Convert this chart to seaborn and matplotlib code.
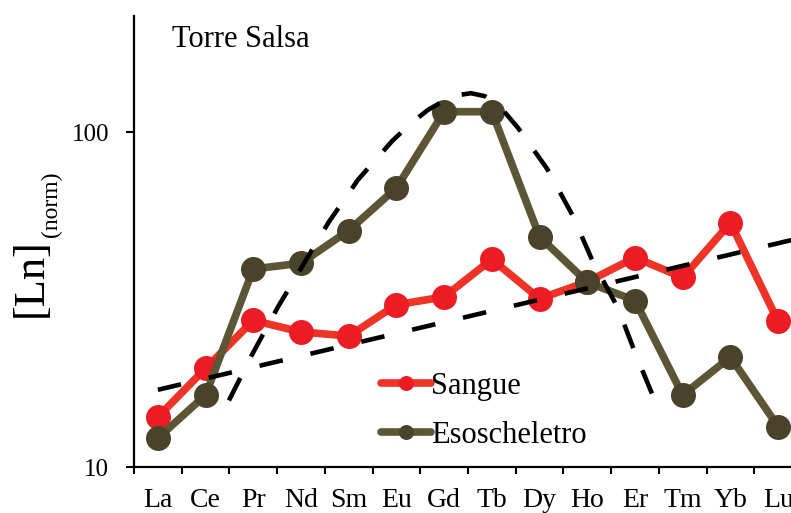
import numpy as np
import pandas as pd
import seaborn as sns
import matplotlib
matplotlib.use('Agg')
import matplotlib.pyplot as plt
from matplotlib.ticker import FixedLocator, NullFormatter, NullLocator

# dati
elementi = ['La', 'Ce', 'Pr', 'Nd', 'Sm', 'Eu', 'Gd', 'Tb', 'Dy', 'Ho', 'Er', 'Tm', 'Yb', 'Lu']
sangue = [14.1, 19.7, 27.4, 25.3, 24.6, 30.5, 32.2, 41.7, 31.8, 35.7, 42.2, 36.8, 53.6, 27.2]
esoscheletro = [12.2, 16.4, 39.0, 40.6, 50.8, 68.1, 115, 115, 48.7, 35.6, 31.4, 16.4, 21.3, 13.2]

# retta di tendenza (tratteggiata)
retta_x = [0, 13.5]
retta_y = [17.0, 48.4]

# curva a campana (tratteggiata)
curva_x = [1.49, 1.97, 2.52, 3.58, 4.19, 4.91, 5.30, 5.66, 5.95, 6.25, 6.56, 6.85, 7.15, 7.55, 8.16, 8.70, 9.12, 9.64, 10.02, 10.44]
curva_y = [15.8, 21.6, 30.1, 53.8, 71.9, 94.0, 106.0, 116.4, 123.0, 128.5, 130.6, 128.0, 120.0, 102.8, 77.6, 56.1, 40.9, 29.9, 21.6, 15.5]

df = pd.DataFrame({'x': range(len(elementi)), 'sangue': sangue, 'eso': esoscheletro})

sns.set_theme(style='ticks')
plt.rcParams['font.family'] = ['Liberation Serif', 'DejaVu Serif']
plt.rcParams['text.color'] = 'black'

fig = plt.figure(figsize=(7.91, 5.13), dpi=100)
# l'asse prosegue oltre il bordo destro come nell'originale
ax = fig.add_axes([134 / 791, 1 - 467 / 513, 668 / 791, 451 / 513])

sns.lineplot(data=df, x='x', y='sangue', ax=ax, color='#EE3426', linewidth=5.5,
             marker='o', markersize=18, markerfacecolor='#ED1C24', markeredgewidth=0,
             label='Sangue', zorder=3)
sns.lineplot(data=df, x='x', y='eso', ax=ax, color='#5D5636', linewidth=5.5,
             marker='o', markersize=18, markerfacecolor='#4A432C', markeredgewidth=0,
             label='Esoscheletro', zorder=3)

ax.plot(retta_x, retta_y, color='black', linewidth=3.3, linestyle=(0, (5.2, 6.2)), zorder=4)
ax.plot(curva_x, curva_y, color='black', linewidth=3.3, linestyle=(0, (5.5, 5.2)), zorder=4)

ax.set_yscale('log')
ax.set_ylim(10, 222)
ax.set_xlim(-0.5, 13.5)
ax.yaxis.set_major_locator(FixedLocator([10, 100]))
ax.yaxis.set_minor_locator(NullLocator())
ax.set_yticklabels(['10', '100'])

ax.xaxis.set_major_locator(FixedLocator(np.arange(-0.5, 14, 1)))
ax.xaxis.set_major_formatter(NullFormatter())
ax.xaxis.set_minor_locator(FixedLocator(range(len(elementi))))
ax.set_xticklabels(elementi, minor=True)

ax.tick_params(axis='x', which='major', length=5, width=1.5, direction='out', color='black')
ax.tick_params(axis='x', which='minor', length=0, pad=15, labelsize=20, labelcolor='black')
ax.tick_params(axis='y', which='major', length=6, width=1.5, direction='out', pad=12,
               labelsize=18, labelcolor='black', color='black')

for s in ['top', 'right']:
    ax.spines[s].set_visible(False)
for s in ['left', 'bottom']:
    ax.spines[s].set_linewidth(1.6)
    ax.spines[s].set_color('black')

ax.set_xlabel('')
ax.set_ylabel('')

leg = ax.legend(loc='upper left', bbox_to_anchor=(381 / 791, 1 - 372 / 513),
                bbox_transform=fig.transFigure, frameon=False, fontsize=22,
                handlelength=1.65, handletextpad=0.0, labelspacing=0.66,
                borderpad=0, borderaxespad=0, markerscale=0.6)
for t in leg.get_texts():
    t.set_color('black')

fig.text(172 / 791, 1 - 47 / 513, 'Torre Salsa', fontsize=22, ha='left', va='baseline', color='black')
fig.text(31 / 791, 1 - 278 / 513, '[Ln]', fontsize=32, rotation=90, ha='center', va='center', color='black')
fig.text(51 / 791, 1 - 204 / 513, '(norm)', fontsize=17, rotation=90, ha='center', va='center', color='black')

fig.savefig('out.png', dpi=100)
